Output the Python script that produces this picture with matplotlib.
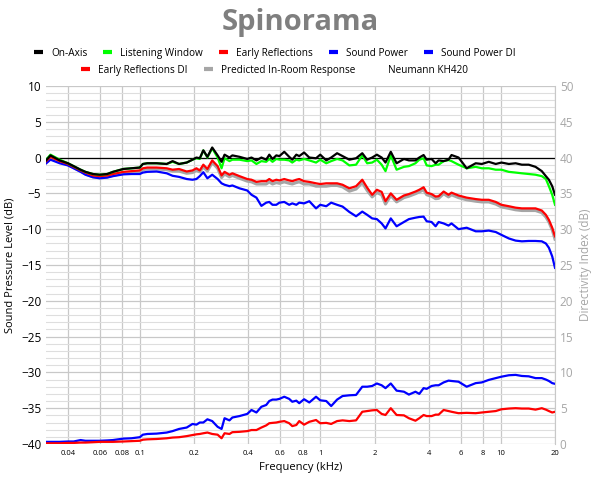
import matplotlib
matplotlib.use("Agg")
import matplotlib.pyplot as plt
from matplotlib.lines import Line2D
from matplotlib.ticker import NullLocator

plt.rcParams['font.family'] = ['Open Sans', 'DejaVu Sans']

# frequency grid (kHz)
freq = [0.030, 0.032, 0.036, 0.040, 0.043, 0.047, 0.050, 0.055, 0.060, 0.066,
        0.071, 0.081, 0.090, 0.100, 0.104, 0.110, 0.124, 0.141, 0.152, 0.165,
        0.182, 0.196, 0.206, 0.215, 0.225, 0.237, 0.252, 0.270, 0.284, 0.295,
        0.314, 0.326, 0.357, 0.394, 0.416, 0.443, 0.472, 0.502, 0.522, 0.544,
        0.571, 0.594, 0.632, 0.673, 0.700, 0.737, 0.765, 0.814, 0.870, 0.948,
        1.0, 1.08, 1.15, 1.24, 1.33, 1.45, 1.58, 1.71, 1.82, 1.94,
        2.06, 2.19, 2.30, 2.46, 2.65, 2.91, 3.10, 3.37, 3.54, 3.74,
        3.89, 4.14, 4.36, 4.53, 4.83, 5.14, 5.34, 5.84, 6.48, 7.27,
        7.86, 8.59, 9.39, 10.1, 11.1, 12.1, 13.1, 14.3, 15.6, 16.9,
        17.8, 18.5, 19.3, 20.0]

on_axis = [-0.5, 0.3, -0.4, -0.8, -1.2, -1.7, -2.0, -2.3, -2.4, -2.3,
           -2.0, -1.6, -1.5, -1.4, -0.9, -0.8, -0.8, -0.9, -0.5, -0.9,
           -0.7, -0.3, 0.0, -0.1, 1.0, 0.1, 1.4, 0.3, -0.6, 0.4,
           0.0, 0.3, 0.1, -0.2, 0.0, -0.4, 0.0, -0.3, 0.4, -0.2,
           0.3, 0.2, 0.8, 0.1, -0.3, 0.4, 0.2, 0.7, 0.0, -0.1,
           0.4, -0.4, 0.0, 0.6, 0.2, -0.3, -0.1, 0.6, -0.3, 0.0,
           0.4, 0.0, -0.7, 0.8, -0.8, -0.2, -0.4, -0.4, 0.0, 0.35,
           -0.3, -0.2, -0.8, -0.4, -0.5, -0.3, 0.35, 0.0, -1.5, -0.8,
           -0.9, -0.6, -0.9, -0.7, -0.9, -0.8, -1.0, -1.0, -1.3, -1.9,
           -2.6, -3.1, -4.0, -5.2]

listening_window = [-0.4, 0.4, -0.3, -0.8, -1.2, -1.7, -2.0, -2.3, -2.4, -2.3,
                    -2.0, -1.6, -1.5, -1.4, -0.9, -0.8, -0.8, -0.9, -0.6, -0.9,
                    -0.7, -0.3, -0.1, -0.2, 1.0, 0.0, 1.3, 0.0, -1.5, -0.1,
                    -0.5, -0.3, -0.3, -0.5, -0.4, -0.9, -0.5, -0.6, -0.2, -0.6,
                    -0.2, -0.3, -0.3, -0.4, -0.7, -0.3, -0.4, -0.2, -0.4, -0.7,
                    -0.3, -0.8, -0.5, -0.2, -0.4, -1.1, -1.0, 0.3, -0.8, -0.7,
                    -0.3, -1.0, -1.9, 0.3, -1.7, -1.3, -1.2, -0.8, -0.3, -0.1,
                    -1.1, -1.2, -1.0, -1.0, -0.5, -0.35, -0.5, -1.0, -1.5, -1.3,
                    -1.5, -1.5, -1.7, -1.7, -2.0, -2.1, -2.2, -2.3, -2.4, -2.6,
                    -3.0, -4.0, -5.2, -6.6]

early_reflections = [-0.6, 0.1, -0.5, -0.9, -1.3, -1.8, -2.1, -2.5, -2.6, -2.5,
                     -2.3, -2.0, -1.9, -1.8, -1.5, -1.4, -1.4, -1.5, -1.7, -1.6,
                     -1.95, -1.8, -1.5, -1.8, -1.0, -1.6, -0.4, -1.2, -2.5, -2.0,
                     -2.4, -2.2, -2.6, -3.0, -3.1, -3.4, -3.3, -3.3, -3.0, -3.3,
                     -3.1, -3.2, -3.0, -3.2, -3.3, -3.1, -3.0, -3.3, -3.4, -3.6,
                     -3.7, -3.6, -3.6, -3.6, -3.8, -4.3, -4.0, -3.1, -4.2, -5.2,
                     -4.5, -4.8, -6.1, -5.0, -5.9, -5.3, -5.1, -4.75, -4.5, -4.15,
                     -4.9, -5.1, -5.45, -5.4, -4.75, -5.2, -4.9, -5.3, -5.6, -5.8,
                     -5.9, -5.9, -6.2, -6.6, -6.8, -7.0, -7.1, -7.1, -7.1, -7.4,
                     -8.0, -8.7, -9.8, -11.0]

predicted_in_room = [-0.7, 0.0, -0.6, -1.0, -1.4, -1.9, -2.3, -2.7, -2.8, -2.7,
                     -2.5, -2.2, -2.1, -2.0, -1.7, -1.6, -1.6, -1.7, -1.9, -1.9,
                     -2.2, -2.1, -1.8, -2.0, -1.3, -1.9, -0.7, -1.5, -2.8, -2.3,
                     -2.7, -2.5, -2.9, -3.3, -3.4, -3.7, -3.7, -3.7, -3.4, -3.7,
                     -3.5, -3.6, -3.4, -3.6, -3.7, -3.5, -3.4, -3.7, -3.7, -4.0,
                     -4.0, -4.0, -3.9, -3.9, -4.1, -4.7, -4.4, -3.5, -4.6, -5.5,
                     -4.9, -5.2, -6.5, -5.3, -6.2, -5.6, -5.4, -5.05, -4.8, -4.5,
                     -5.2, -5.4, -5.75, -5.7, -5.05, -5.5, -5.2, -5.6, -5.9, -6.1,
                     -6.2, -6.2, -6.5, -6.9, -7.1, -7.3, -7.4, -7.4, -7.4, -7.7,
                     -8.3, -9.0, -10.1, -11.4]

sound_power = [-0.9, -0.3, -0.8, -1.1, -1.5, -2.0, -2.4, -2.75, -2.9, -2.8,
               -2.6, -2.35, -2.3, -2.3, -2.1, -2.0, -1.95, -2.2, -2.55, -2.7,
               -3.0, -3.1, -3.0, -2.6, -2.05, -2.9, -2.4, -3.0, -3.6, -3.8,
               -4.0, -3.9, -4.3, -4.6, -5.2, -5.6, -6.75, -6.3, -6.2, -6.6,
               -6.6, -6.3, -6.2, -6.6, -6.4, -6.6, -6.3, -6.4, -6.1, -7.1,
               -6.6, -6.8, -6.3, -6.6, -6.85, -7.6, -8.2, -7.55, -8.0, -8.5,
               -8.6, -9.2, -9.9, -8.5, -9.6, -9.0, -8.6, -8.4, -8.3, -8.25,
               -8.9, -9.0, -9.6, -9.0, -9.2, -9.5, -9.2, -10.0, -9.8, -10.3,
               -10.3, -10.2, -10.4, -10.8, -11.3, -11.6, -11.7, -11.65, -11.65, -11.7,
               -12.0, -12.6, -13.8, -15.4]

sound_power_di = [0.3, 0.3, 0.3, 0.35, 0.35, 0.55, 0.45, 0.45, 0.45, 0.5,
                  0.55, 0.75, 0.8, 0.95, 1.3, 1.4, 1.45, 1.6, 1.8, 2.1,
                  2.3, 2.8, 2.7, 3.0, 3.0, 3.45, 3.2, 2.4, 2.1, 3.6,
                  3.3, 3.7, 3.9, 4.2, 4.75, 4.4, 5.2, 5.45, 6.0, 6.2,
                  6.2, 6.3, 6.6, 6.3, 5.9, 6.05, 5.7, 6.25, 5.8, 6.6,
                  6.1, 6.0, 5.3, 6.2, 6.7, 6.8, 6.85, 8.0, 8.0, 8.1,
                  8.45, 8.2, 7.8, 8.45, 7.45, 7.3, 6.9, 7.3, 7.0, 7.8,
                  7.7, 8.1, 8.2, 8.2, 8.6, 8.85, 8.8, 8.7, 8.0, 8.5,
                  8.6, 8.95, 9.2, 9.4, 9.6, 9.65, 9.5, 9.45, 9.2, 9.2,
                  9.0, 8.8, 8.5, 8.4]

early_reflections_di = [0.1, 0.1, 0.1, 0.15, 0.15, 0.2, 0.2, 0.25, 0.3, 0.3,
                        0.3, 0.35, 0.4, 0.45, 0.6, 0.65, 0.7, 0.8, 0.9, 0.95,
                        1.1, 1.25, 1.35, 1.4, 1.5, 1.6, 1.4, 1.3, 0.8, 1.5,
                        1.4, 1.65, 1.7, 1.8, 1.95, 1.95, 2.3, 2.6, 2.9, 2.95,
                        3.0, 3.1, 3.2, 2.9, 2.5, 2.65, 3.2, 2.7, 3.1, 3.35,
                        2.9, 2.95, 2.8, 3.2, 3.3, 3.2, 3.3, 4.5, 4.6, 4.7,
                        4.75, 4.2, 4.05, 5.0, 4.05, 4.0, 3.6, 3.25, 3.6, 4.05,
                        3.9, 3.9, 4.1, 4.1, 4.75, 4.6, 4.5, 4.3, 4.35, 4.3,
                        4.4, 4.5, 4.6, 4.85, 4.95, 5.0, 4.95, 4.95, 4.8, 5.0,
                        4.8, 4.6, 4.4, 4.5]

xticks = [0.04, 0.06, 0.08, 0.1, 0.2, 0.4, 0.6, 0.8, 1, 2, 4, 6, 8, 10, 20]
xticklabels = ['0.04', '0.06', '0.08', '0.1', '0.2', '0.4', '0.6', '0.8', '1',
               '2', '4', '6', '8', '10', '20']

grey = '#a6a6a6'
fig = plt.figure(figsize=(6, 4.8), dpi=100)
ax = fig.add_axes([0.077, 0.075, 0.848, 0.746])
ax2 = ax.twinx()

ax.plot(freq, on_axis, color='black', lw=1.6, zorder=5)
ax.plot(freq, listening_window, color='#00ff00', lw=1.6, zorder=4)
ax.plot(freq, predicted_in_room, color=grey, lw=2.2, zorder=3)
ax.plot(freq, early_reflections, color='red', lw=1.6, zorder=3.5)
ax.plot(freq, sound_power, color='blue', lw=1.6, zorder=3)
ax2.plot(freq, sound_power_di, color='blue', lw=1.6)
ax2.plot(freq, early_reflections_di, color='red', lw=1.6)
ax.axhline(0, color='black', lw=0.9, zorder=2)

ax.set_xscale('log')
ax.set_xlim(0.0303, 20)
ax.set_ylim(-40, 10)
ax2.set_ylim(0, 50)
ax.set_yticks(range(-40, 11, 5))
ax.set_yticks(range(-40, 11, 1), minor=True)
ax2.set_yticks(range(0, 51, 5))
ax.set_xticks(xticks)
ax.set_xticklabels(xticklabels, fontsize=5.5)
ax.xaxis.set_minor_locator(NullLocator())
ax.grid(True, which='major', color='#c8c8c8', lw=0.9)
ax.grid(True, which='minor', axis='y', color='#dedede', lw=0.8)
ax.tick_params(which='both', length=0, labelsize=8.5)
ax.tick_params(axis='x', labelsize=5.5, pad=4)
ax2.tick_params(which='both', length=0, labelsize=8.5, colors=grey)
for a in (ax, ax2):
    for s in a.spines.values():
        s.set_visible(False)
ax2.spines['right'].set_visible(True)
ax2.spines['right'].set_color('#c8c8c8')

ax.set_xlabel('Frequency (kHz)', fontsize=8)
ax.set_ylabel('Sound Pressure Level (dB)', fontsize=8)
ax2.set_ylabel('Directivity Index (dB)', fontsize=8.5, color=grey)

fig.text(0.5, 0.954, 'Spinorama', ha='center', va='center',
         fontsize=21, fontweight='bold', color='#7f7f7f')

def h(c):
    return Line2D([], [], color=c, lw=3, solid_capstyle='butt')

row1 = [h('black'), h('#00ff00'), h('red'), h('blue'), h('blue')]
lab1 = ['On-Axis', 'Listening Window', 'Early Reflections', 'Sound Power', 'Sound Power DI']
row2 = [h('red'), h(grey), h('none')]
lab2 = ['Early Reflections DI', 'Predicted In-Room Response', 'Neumann KH420']
kw = dict(loc='center', frameon=False, fontsize=7.2, handlelength=0.9,
          handletextpad=0.8, columnspacing=1.6)
fig.legend(row1, lab1, ncol=5, bbox_to_anchor=(0.458, 0.889), **kw)
fig.legend(row2, lab2, ncol=3, bbox_to_anchor=(0.458, 0.854), **kw)

fig.savefig('out.png', dpi=100)
